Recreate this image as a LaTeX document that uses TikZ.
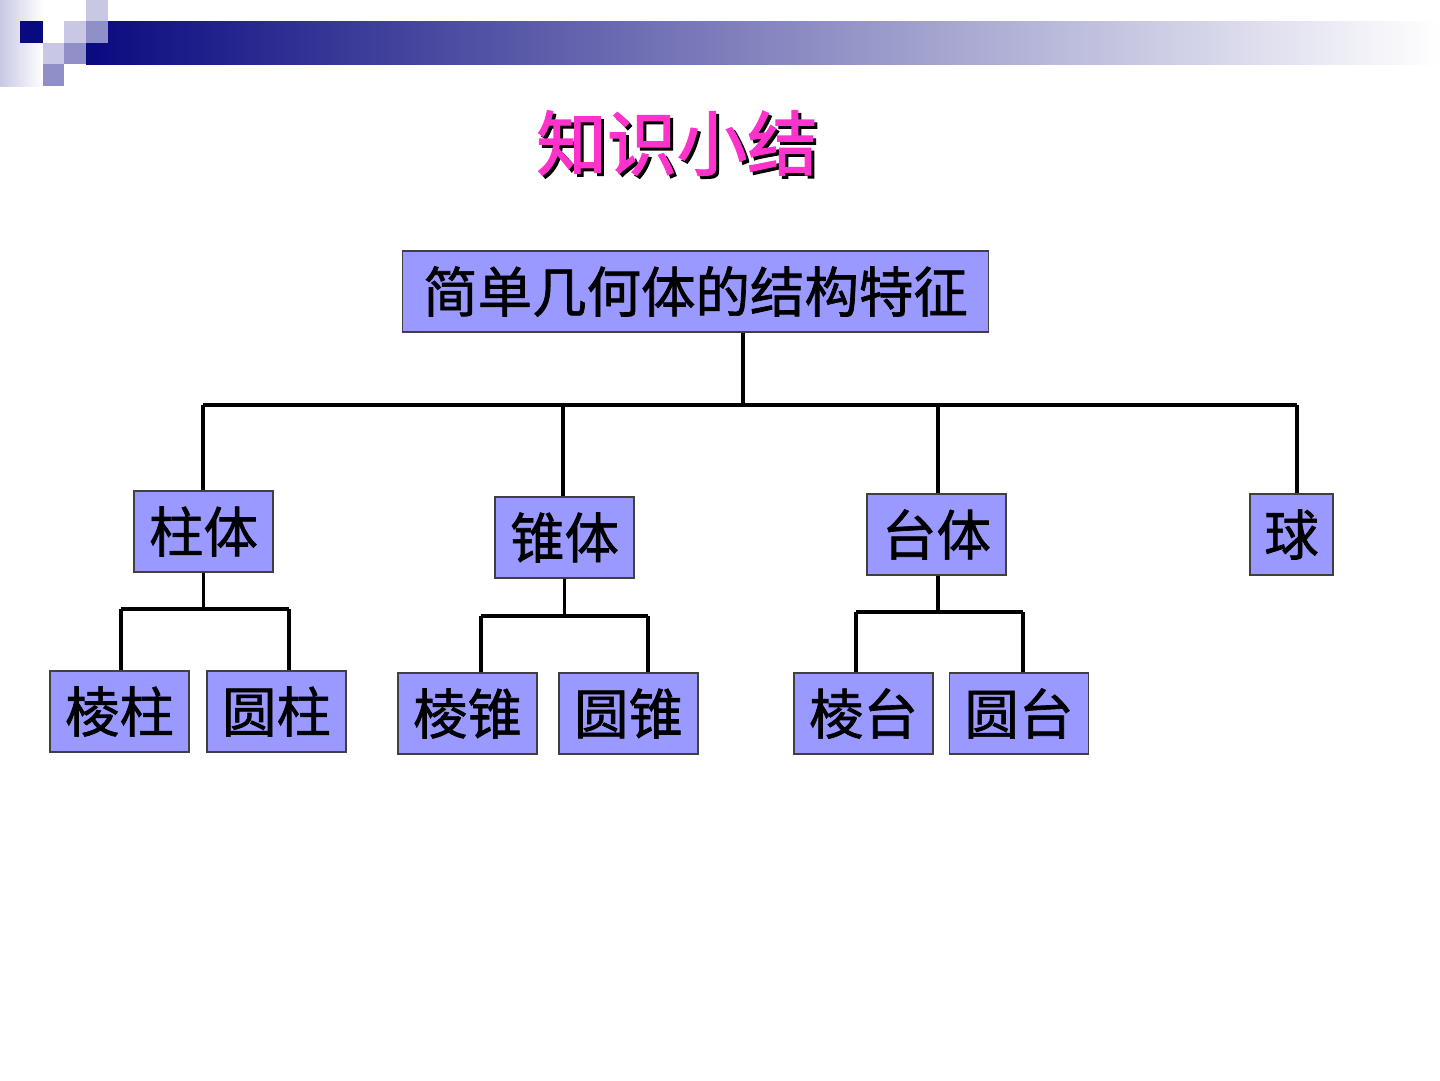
\documentclass[tikz,border=0pt]{standalone}
\usepackage{fontspec}
\newfontfamily\cjk[FakeBold=1.2,AutoFakeBold=1.2]{Noto Sans CJK SC}
\newfontfamily\cjkt[FakeBold=2]{Noto Sans CJK SC}
\usepackage{tikz}
\usetikzlibrary{positioning,calc}
\definecolor{hdnavy}{HTML}{0A0A80}
\definecolor{hdmid}{HTML}{9090C8}
\definecolor{hdlight}{HTML}{C8C8E4}
\definecolor{boxblue}{HTML}{9999FF}
\definecolor{titlepink}{HTML}{FF33CC}
\tikzset{
  % knoten
  jt/.style={draw=black!75,fill=boxblue,line width=0.6pt,inner sep=0pt,
             minimum height=1.62cm,font=\cjk\fontsize{31}{31}\selectfont},
  jt2/.style={jt,minimum width=2.78cm},
  ln/.style={draw=black,line width=2.2pt},
  tit/.style={inner sep=0pt,font=\cjkt\fontsize{40}{40}\selectfont},
}
\begin{document}
\begin{tikzpicture}[x=0.02cm,y=-0.02cm]
\useasboundingbox (0,0) rectangle (1440,1080);
  % header bar
  \shade[left color=hdlight,right color=white] (0,0) rectangle (43,86);
  \shade[left color=hdnavy,right color=white] (86,21) rectangle (1440,64);
  \fill[hdnavy] (20,21) rectangle (43,43);
  \fill[hdlight] (86,0) rectangle (108,21);
  \fill[hdlight] (64,21) rectangle (86,43);
  \fill[hdmid] (86,21) rectangle (108,43);
  \fill[hdlight] (43,43) rectangle (64,64);
  \fill[hdmid] (64,43) rectangle (86,64);
  \fill[hdmid] (43,64) rectangle (64,86);
  \fill[white] (43,0) rectangle (86,21);
  % title with shadow
  \node[tit,text=black] (titles) at (680,146) {知识小结};
  \node[tit,text=titlepink] (title) at (677,143) {知识小结};
  % boxes
  \node[jt,minimum width=11.74cm] (root) at (695.5,291.5) {简单几何体的结构特征};
  \node[jt2] (zt) at (203.5,531.5) {柱体};
  \node[jt2] (zh) at (564.5,537.5) {锥体};
  \node[jt2] (tt) at (936.5,534.5) {台体};
  \node[jt,minimum width=1.66cm] (qiu) at (1291.5,534.5) {球};
  \node[jt2] (lz) at (119.5,711.5) {棱柱};
  \node[jt2] (yz) at (276.5,711.5) {圆柱};
  \node[jt2] (lzh) at (467.5,713.5) {棱锥};
  \node[jt2] (yzh) at (628.5,713.5) {圆锥};
  \node[jt2] (lt) at (863.5,713.5) {棱台};
  \node[jt2] (yt) at (1019,713.5) {圆台};
  % main bus
  \coordinate (bus0) at (743,405);
  \coordinate (bus1) at (203,405);
  \coordinate (bus2) at (563,405);
  \coordinate (bus3) at (938,405);
  \coordinate (bus4) at (1297,405);
  \draw[ln] (root.south -| bus0) -- (bus0);
  \draw[ln] (bus1) -- (bus4);
  \draw[ln] (bus1) -- (bus1 |- zt.north);
  \draw[ln] (bus2) -- (bus2 |- zh.north);
  \draw[ln] (bus3) -- (bus3 |- tt.north);
  \draw[ln] (bus4) -- (bus4 |- qiu.north);
  % sub buses
  \coordinate (za) at (121,609);
  \coordinate (zb) at (289,609);
  \draw[ln] (zt.south) -- (zt.south |- za);
  \draw[ln] (za) -- (zb);
  \draw[ln] (za) -- (za |- lz.north);
  \draw[ln] (zb) -- (zb |- yz.north);
  \coordinate (ha) at (481,616);
  \coordinate (hb) at (648,616);
  \draw[ln] (zh.south) -- (zh.south |- ha);
  \draw[ln] (ha) -- (hb);
  \draw[ln] (ha) -- (ha |- lzh.north);
  \draw[ln] (hb) -- (hb |- yzh.north);
  \coordinate (ta) at (856,612);
  \coordinate (tb) at (1023,612);
  \draw[ln] (tt.south -| bus3) -- (bus3 |- ta);
  \draw[ln] (ta) -- (tb);
  \draw[ln] (ta) -- (ta |- lt.north);
  \draw[ln] (tb) -- (tb |- yt.north);
\end{tikzpicture}
\end{document}
